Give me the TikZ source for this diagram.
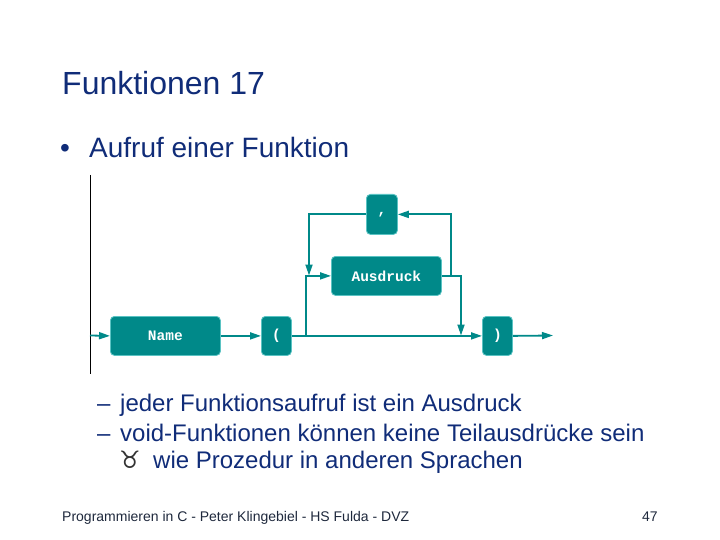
\documentclass[tikz,border=0pt]{standalone}
\usepackage{fontspec}
\setmainfont{Liberation Sans}
\setmonofont{Liberation Mono}
\newfontfamily\symfont{DejaVu Sans}
\usetikzlibrary{arrows.meta}
\definecolor{folieblau}{RGB}{16,44,120}
\definecolor{fussgrau}{RGB}{30,40,60}
\definecolor{syntaxteal}{RGB}{0,137,137}
\definecolor{syntaxrand}{RGB}{90,195,195}
\tikzset{
  syntaxbox/.style={draw=syntaxrand, line width=0.8pt, fill=syntaxteal, rounded corners=4pt,
    text=white, font=\ttfamily\bfseries\fontsize{14.5}{15}\selectfont, inner sep=0pt, anchor=north west},
  syntaxline/.style={draw=syntaxteal, line width=1.8pt},
  syntaxpfeil/.style={syntaxline, -{Triangle[length=11pt,width=7pt]}},
  folietext/.style={anchor=base west, inner sep=0pt, text=folieblau}
}
\begin{document}
\begin{tikzpicture}[x=1pt, y=-1pt]
    \useasboundingbox (0,0) rectangle (720,540); % Folie
    % Texte
    \node[folietext, font=\fontsize{32}{36}\selectfont] (titel) at (62,95) {Funktionen 17};
    \node[folietext, font=\fontsize{28}{32}\selectfont] (punkt) at (60,158) {•};
    \node[folietext, font=\fontsize{28}{32}\selectfont] (aufruf) at (89,158) {Aufruf einer Funktion};
    \node[folietext, font=\fontsize{24}{28}\selectfont] (strich1) at (97,411) {–};
    \node[folietext, font=\fontsize{24}{28}\selectfont] (zeile1) at (120,411) {jeder Funktionsaufruf ist ein Ausdruck};
    \node[folietext, font=\fontsize{24}{28}\selectfont] (strich2) at (97,441) {–};
    \node[folietext, font=\fontsize{24}{28}\selectfont] (zeile2) at (120,441) {void-Funktionen können keine Teilausdrücke sein};
    \node[folietext, font=\symfont\fontsize{24}{28}\selectfont, text=black!80] (zeichen) at (119,468) {♉};
    \node[folietext, font=\fontsize{24}{28}\selectfont] (zeile3) at (153,468) {wie Prozedur in anderen Sprachen};
    \node[folietext, text=fussgrau, font=\fontsize{14}{16}\selectfont] (fuss) at (62,521) {Programmieren in C - Peter Klingebiel - HS Fulda - DVZ};
    \node[folietext, text=fussgrau, font=\fontsize{14}{16}\selectfont] (seite) at (642,521) {47};
    % Syntaxdiagramm
    \draw[black, line width=1pt] (90,175) -- (90,374); % Rand links
    \node[syntaxbox, minimum width=110pt, minimum height=39pt] (name) at (110,316) {Name};
    \node[syntaxbox, minimum width=30pt, minimum height=39pt] (auf) at (261,316) {(};
    \node[syntaxbox, minimum width=30pt, minimum height=39pt] (zu) at (482,316) {)};
    \node[syntaxbox, minimum width=110pt, minimum height=39pt] (ausdruck) at (331,256) {Ausdruck};
    \node[syntaxbox, minimum width=31pt, minimum height=40pt] (komma) at (366,194) {,};
    \coordinate (start) at (90,335.5); % Eingang
    \coordinate (ende) at (553,335.5); % Ausgang
    \coordinate (abzweig) at (306,335.5);
    \coordinate (mündung) at (461,335.5);
    \coordinate (hoch) at (451,275.5);
    \coordinate (runter) at (309,275.5);
    \draw[syntaxpfeil] (start) -- (name.west);
    \draw[syntaxpfeil] (name.east) -- (auf.west);
    \draw[syntaxpfeil] (auf.east) -- (zu.west);
    \draw[syntaxpfeil] (zu.east) -- (ende);
    \draw[syntaxpfeil] (abzweig) |- (ausdruck.west);
    \draw[syntaxpfeil] (ausdruck.east) -| (mündung);
    \draw[syntaxpfeil] (hoch) |- (komma.east);
    \draw[syntaxpfeil] (komma.west) -| (runter);
\end{tikzpicture}
\end{document}
